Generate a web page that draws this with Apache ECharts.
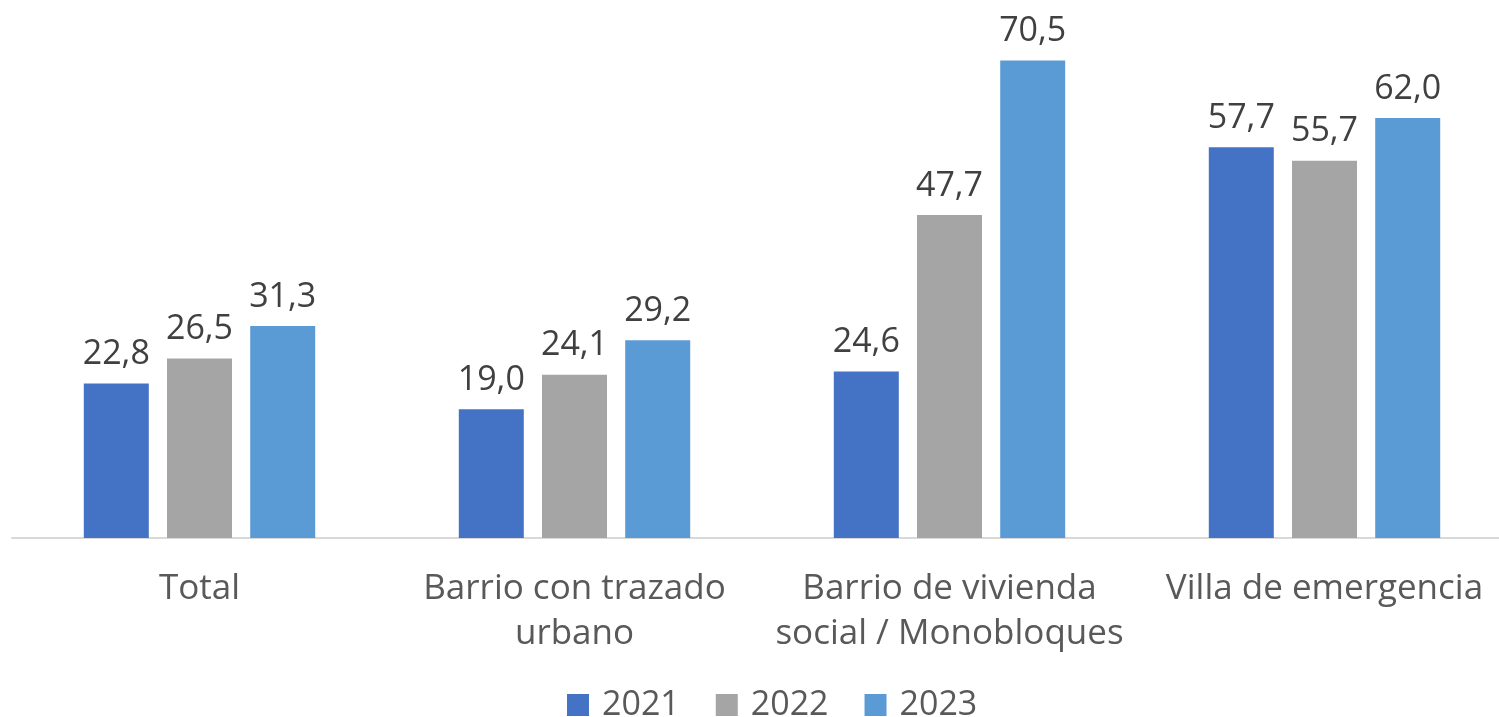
<!DOCTYPE html>
<html>
<head>
<meta charset="utf-8">
<script src="https://cdn.jsdelivr.net/npm/echarts@6/dist/echarts.min.js"></script>
<style>
  html, body { margin: 0; padding: 0; background: #fff; }
  #chart { width: 1499px; height: 717px; }
</style>
</head>
<body>
<div id="chart"></div>
<script>
const categories = [
  "Total",
  "Barrio con trazado\nurbano",
  "Barrio de vivienda\nsocial / Monobloques",
  "Villa de emergencia",
];
const years = ["2021", "2022", "2023"];
const values2021 = [22.8, 19.0, 24.6, 57.7];
const values2022 = [26.5, 24.1, 47.7, 55.7];
const values2023 = [31.3, 29.2, 70.5, 62.0];
const colors = ["#4472C4", "#A5A5A5", "#5B9BD5"];

const fontFamily = "'Open Sans', 'Noto Sans', sans-serif";

const chart = echarts.init(document.getElementById("chart"));

function makeSeries(name, data, color) {
  return {
    name: name,
    type: "bar",
    data: data,
    barWidth: 65,
    barGap: "28%",
    itemStyle: { color: color },
    label: {
      show: true,
      position: "top",
      distance: 12,
      color: "#404040",
      fontSize: 34,
      fontFamily: fontFamily,
      formatter: (p) => p.value.toFixed(1).replace(".", ","),
    },
  };
}

chart.setOption({
  animation: false,
  grid: {
    left: 12,
    width: 1500,
    top: 30,
    bottom: 179,
    containLabel: false,
    outerBoundsMode: "none",
  },
  legend: {
    data: years,
    top: 683,
    left: 562,
    itemWidth: 22,
    itemHeight: 22,
    itemGap: 36,
    icon: "rect",
    textStyle: {
      color: "#595959",
      fontSize: 34,
      fontFamily: fontFamily,
      padding: [0, 0, 0, 8],
    },
  },
  xAxis: {
    type: "category",
    data: categories,
    axisTick: { show: false },
    axisLine: { lineStyle: { color: "#D9D9D9", width: 2 } },
    axisLabel: {
      color: "#595959",
      fontSize: 35,
      fontFamily: fontFamily,
      lineHeight: 45,
      margin: 29,
      interval: 0,
    },
  },
  yAxis: {
    type: "value",
    min: 0,
    max: 75,
    show: false,
    splitLine: { show: false },
  },
  series: [
    makeSeries(years[0], values2021, colors[0]),
    makeSeries(years[1], values2022, colors[1]),
    makeSeries(years[2], values2023, colors[2]),
  ],
});
</script>
</body>
</html>
